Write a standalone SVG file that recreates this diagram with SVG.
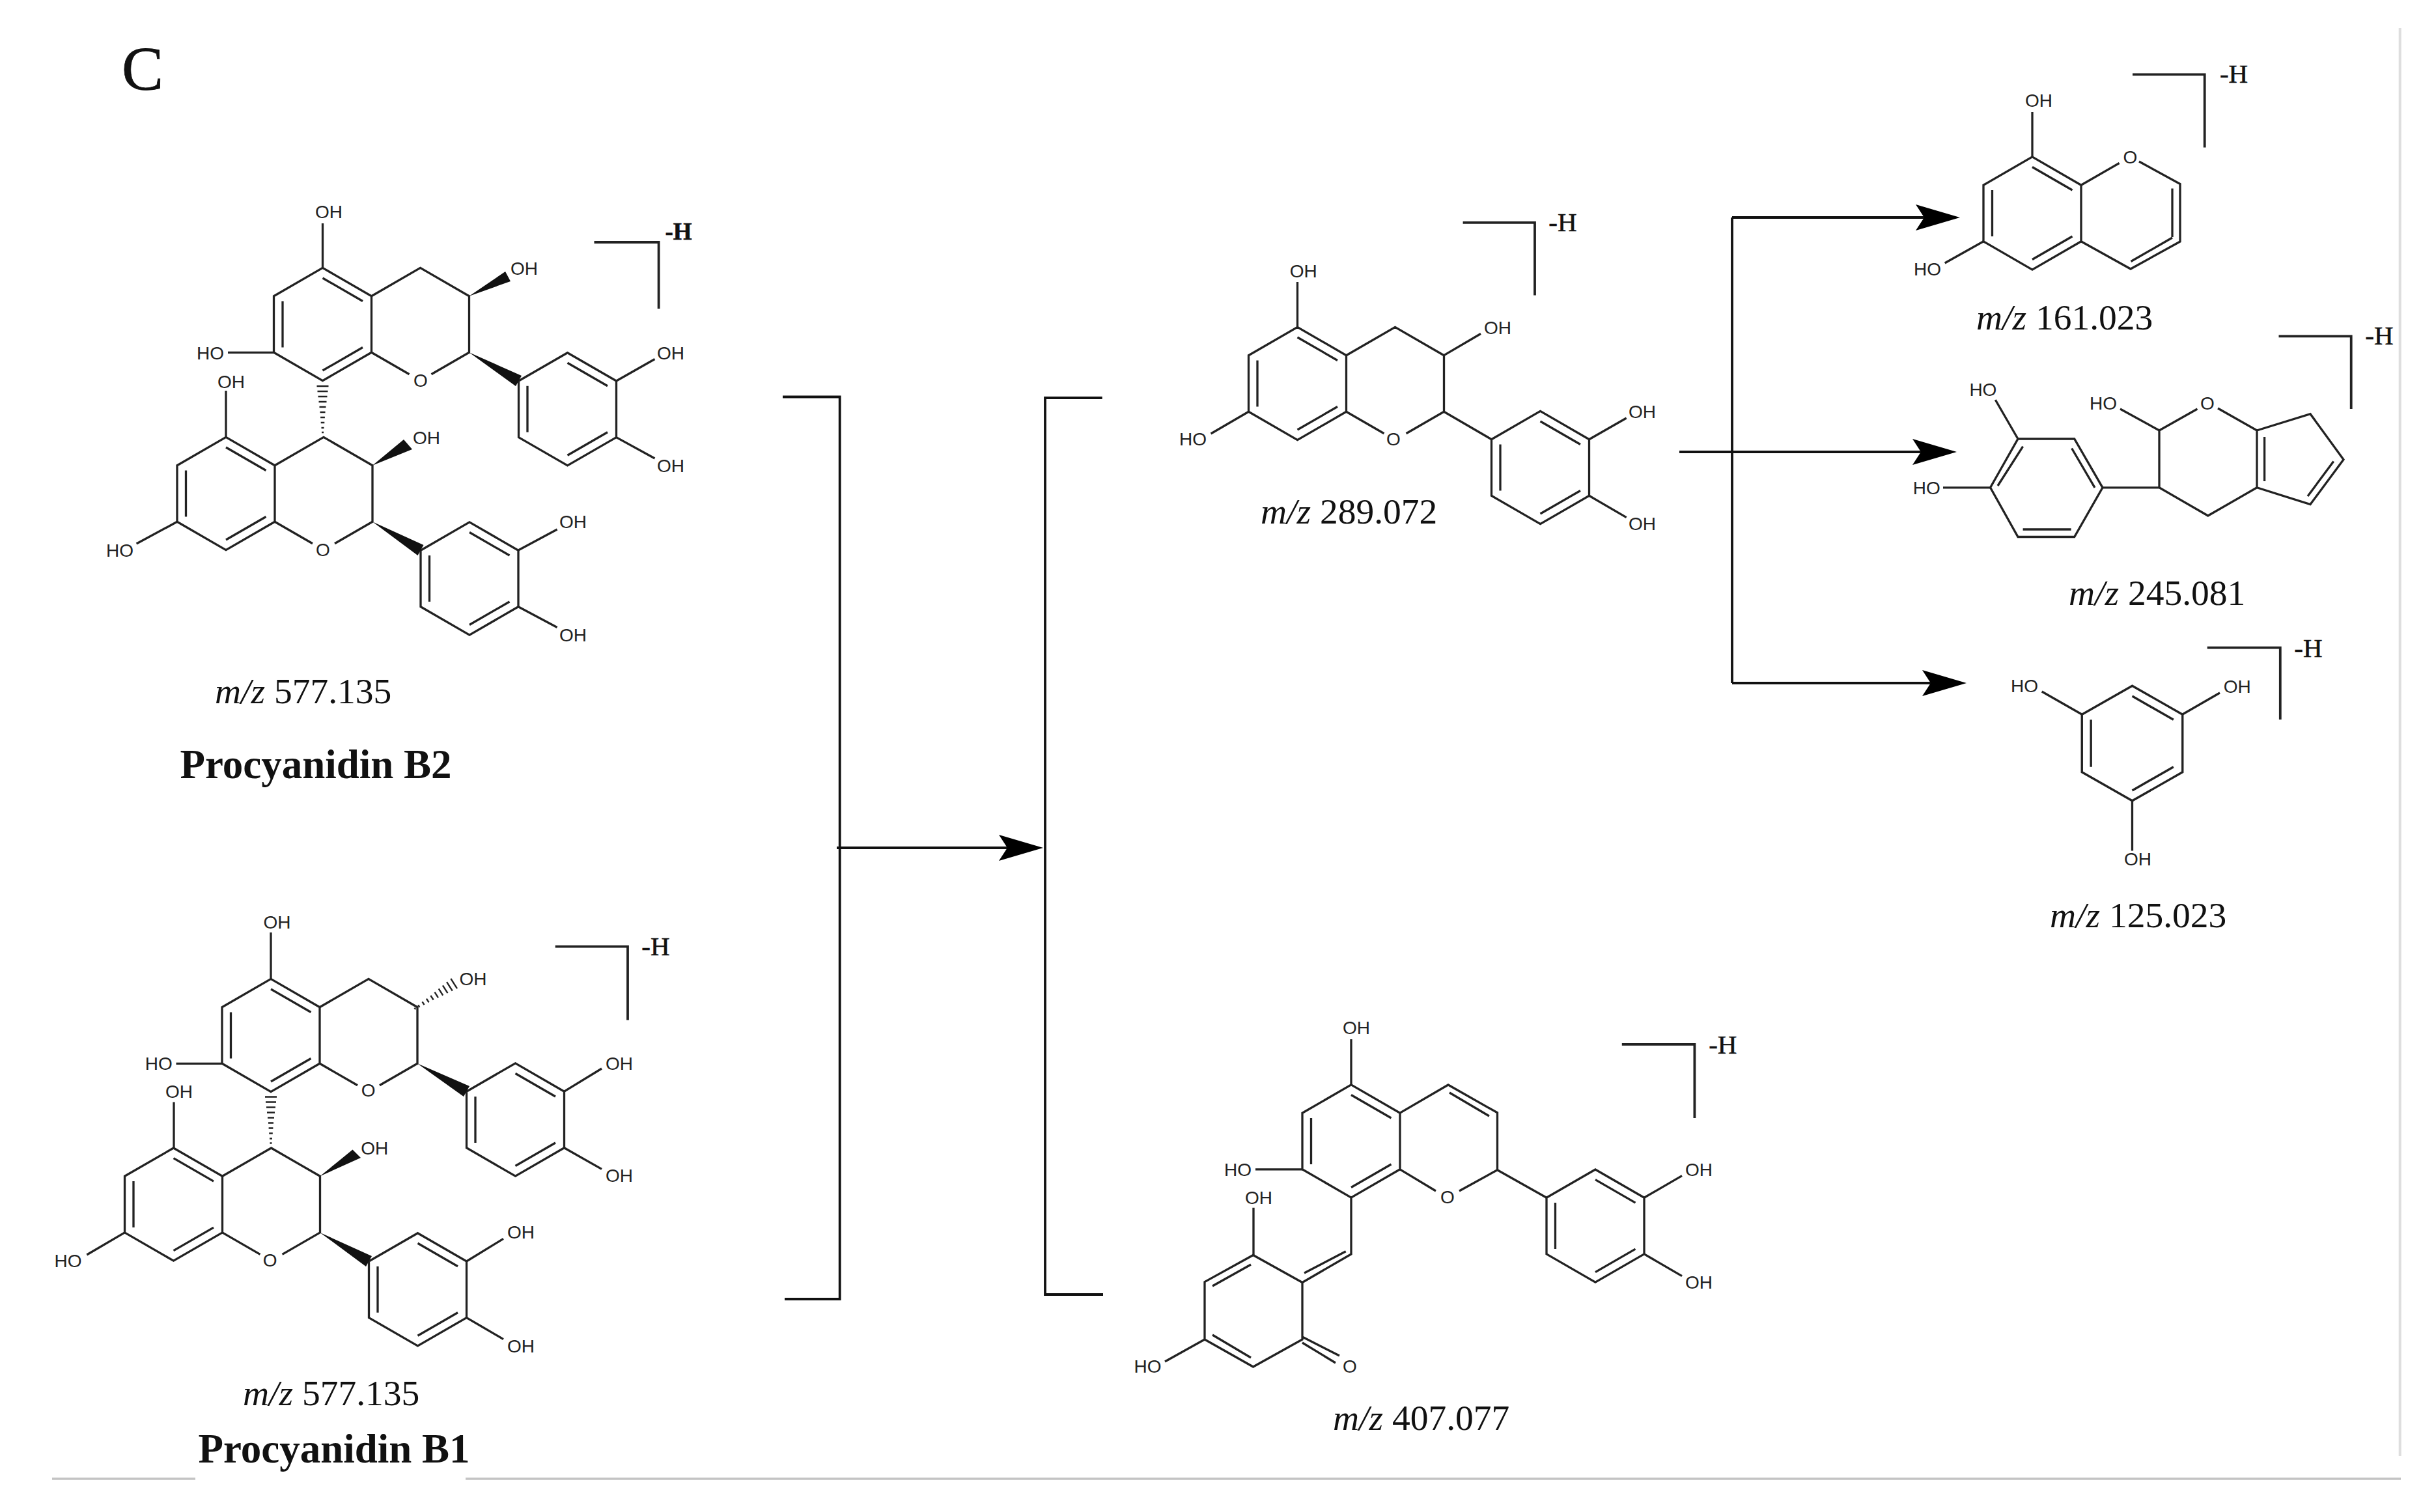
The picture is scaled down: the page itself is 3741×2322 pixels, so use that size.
<svg xmlns="http://www.w3.org/2000/svg" xmlns:xlink="http://www.w3.org/1999/xlink" width="3741" height="2322" viewBox="0 0 3741 2322">
<style>
.b{fill:none;stroke:#222;stroke-width:3.3;stroke-linejoin:miter}
.w{fill:#111;stroke:none}
.h{fill:none;stroke:#222;stroke-width:2.4}
.br{fill:none;stroke:#222;stroke-width:3.8}
.c{fill:none;stroke:#111;stroke-width:3.8}
.a{font-family:"Liberation Sans",Arial,sans-serif;font-size:28px;fill:#222;text-anchor:middle}
.t{font-family:"Liberation Serif","Times New Roman",serif;fill:#111}
.mz{font-size:55.5px}
.mz tspan{font-style:italic}
.hh{font-size:41px;text-anchor:middle;stroke:#111;stroke-width:.6}
.nm{font-size:63px;font-weight:bold;text-anchor:middle}
</style>
<defs>
<path id="benz" d="M0-86.6 75-43.3V43.3L0 86.6-75 43.3V-43.3ZM0-71 61.5-35.5M-61.5-35.5V35.5M0 71 61.5 35.5"/>
<path id="pyran" d="M75-43.3 150-86.6 225-43.3V43.3L167 76.8M133 76.8 75 43.3"/>
<path id="hash" d="M-9 1H9M-8 9H8M-7 17H7M-6 25H6M-5 33H5M-4 41H4M-3.4 49H3.4M-2.8 57H2.8M-2 65H2M-1.5 72H1.5"/>
<marker id="arr" markerUnits="userSpaceOnUse" markerWidth="68" markerHeight="40" viewBox="0 0 68 40" refX="58" refY="20" orient="auto">
<path d="M0 0 68 20 0 40 13 20Z" fill="#000"/>
</marker>
</defs>
<rect width="3741" height="2322" fill="#fff"/>
<g id="frame">
<path d="M80 2271H300M715 2271H3687" fill="none" stroke="#c4c4c4" stroke-width="3.5"/>
<path d="M3685.7 43V2236" fill="none" stroke="#dedede" stroke-width="4"/>
</g>
<text id="panel-label" class="t" x="187" y="138" font-size="96" stroke="#111" stroke-width=".8">C</text>

<g id="procyanidin-b2">
<use href="#benz" class="b" transform="translate(495.5 498)"/>
<use href="#pyran" class="b" transform="translate(495.5 498)"/>
<use href="#benz" class="b" transform="translate(871.5 628.3)"/>
<use href="#benz" class="b" transform="translate(347 758)"/>
<use href="#pyran" class="b" transform="translate(347 758)"/>
<use href="#benz" class="b" transform="translate(721 888.5)"/>
<use href="#hash" class="h" transform="translate(495.5 592)"/>
<path class="b" d="M495.5 411.4V343M420.5 541.3H350M946.5 585 1005.5 551.5M946.5 671.6 1005.5 704M347 671.4V600M272 801.3 209.6 835M796 845 855.6 813M796 931.8 855.6 963.5"/>
<path class="w" d="M720.5 454.7 776 417 784 432ZM720.5 541.3 801 577 792 593ZM572 714.7 620 675 633 690ZM572 801.3 650.5 837 641.5 853Z"/>
<path class="br" d="M912.5 372H1011.6V474"/>
<text class="a" x="505" y="335">OH</text>
<text class="a" x="805" y="422">OH</text>
<text class="a" x="323" y="552">HO</text>
<text class="a" x="646" y="594">O</text>
<text class="a" x="1030" y="552">OH</text>
<text class="a" x="1030" y="725">OH</text>
<text class="a" x="355" y="595.5">OH</text>
<text class="a" x="655" y="682">OH</text>
<text class="a" x="184" y="855">HO</text>
<text class="a" x="496" y="854">O</text>
<text class="a" x="880" y="811">OH</text>
<text class="a" x="880" y="985">OH</text>
<text class="t hh" x="1042" y="368" font-weight="bold" style="font-size:37px">-H</text>
<text class="t mz" x="330" y="1080">
<tspan>m/z</tspan> 577.135</text>
<text class="t nm" x="485" y="1195">Procyanidin B2</text>
</g>

<g id="procyanidin-b1">
<use href="#benz" class="b" transform="translate(416 1590)"/>
<use href="#pyran" class="b" transform="translate(416 1590)"/>
<use href="#benz" class="b" transform="translate(791.5 1719.5)"/>
<use href="#benz" class="b" transform="translate(266.5 1849.6)"/>
<use href="#pyran" class="b" transform="translate(266.5 1849.6)"/>
<use href="#benz" class="b" transform="translate(641.5 1980.3)"/>
<use href="#hash" class="h" transform="translate(416 1683.5)"/>
<use href="#hash" class="h" transform="translate(698 1510) rotate(57.3)"/>
<path class="b" d="M416 1503.4V1432M341 1633.3H270.5M866.5 1676.2 924 1641M866.5 1762.8 924 1795.4M267 1763V1692.4M191.5 1892.9 133.3 1927M716.5 1937 773 1902.4M716.5 2023.6 773 2056.6"/>
<path class="w" d="M641 1633.3 721 1668 712 1684ZM491.5 1806.3 541.5 1765.6 554 1778ZM491.5 1892.9 571 1929 562 1945Z"/>
<path class="br" d="M852.7 1453.6H964V1566.6"/>
<text class="a" x="425.4" y="1426.3">OH</text>
<text class="a" x="726.4" y="1513">OH</text>
<text class="a" x="243.7" y="1642.7">HO</text>
<text class="a" x="565.7" y="1684">O</text>
<text class="a" x="951" y="1642.7">OH</text>
<text class="a" x="951" y="1815.4">OH</text>
<text class="a" x="275" y="1686">OH</text>
<text class="a" x="575.3" y="1773">OH</text>
<text class="a" x="104.6" y="1945.7">HO</text>
<text class="a" x="414.6" y="1945">O</text>
<text class="a" x="800" y="1902.4">OH</text>
<text class="a" x="800" y="2076.6">OH</text>
<text class="t hh" x="1007" y="1467">-H</text>
<text class="t mz" x="373" y="2158">
<tspan>m/z</tspan> 577.135</text>
<text class="t nm" x="513" y="2246">Procyanidin B1</text>
</g>

<g id="mz-289">
<use href="#benz" class="b" transform="translate(1992.5 589)"/>
<use href="#pyran" class="b" transform="translate(1992.5 589)"/>
<use href="#benz" class="b" transform="translate(2365.5 718)"/>
<path class="b" d="M1992.5 502.4V433M2217.5 545.7 2274 512.5M1917.5 632.3 1859.6 666M2217.5 632.3 2290.5 674.7M2440.5 674.7 2497.7 642M2440.5 761.3 2497.7 794.6"/>
<path class="br" d="M2246.6 341.8H2357V453.6"/>
<text class="a" x="2001.7" y="426">OH</text>
<text class="a" x="2300" y="512.5">OH</text>
<text class="a" x="1832" y="684">HO</text>
<text class="a" x="2140" y="684">O</text>
<text class="a" x="2522" y="642">OH</text>
<text class="a" x="2522" y="813.6">OH</text>
<text class="t hh" x="2400" y="355">-H</text>
<text class="t mz" x="1936" y="803.6">
<tspan>m/z</tspan> 289.072</text>
</g>

<g id="mz-407">
<use href="#benz" class="b" transform="translate(2075 1752.5)"/>
<use href="#benz" class="b" transform="translate(2450 1882.6)"/>
<path class="b" d="M2150 1709.2 2224 1666 2299.5 1708.8V1796.7L2241 1829M2205 1829 2150 1795.8M2226 1678 2287 1714"/>
<path class="b" d="M2075 1839.1V1926L2000 1969.5V2057L1924.5 2099 1850 2057V1968.6L1924.5 1927.5 2000 1969.5M2003 1955 2066.7 1921.7M1921 1942 1862 1975M1921 2085 1862 2050M2000 2053 2057 2082M2000 2062 2051 2093"/>
<path class="b" d="M2075 1665.9V1596M2000 1795.8H1928M2525 1839.3 2583 1805.6M2525 1925.9 2583 1959.6M1925 1927.5V1854.7M1850 2057 1789 2091M2299.5 1796.7 2375 1839.3"/>
<path class="br" d="M2490.8 1603.8H2602.4V1717"/>
<text class="a" x="2083" y="1588">OH</text>
<text class="a" x="1901" y="1806">HO</text>
<text class="a" x="2609" y="1806">OH</text>
<text class="a" x="2223" y="1848">O</text>
<text class="a" x="2609" y="1978.6">OH</text>
<text class="a" x="1933" y="1849">OH</text>
<text class="a" x="1762.5" y="2108">HO</text>
<text class="a" x="2073" y="2108">O</text>
<text class="t hh" x="2645.8" y="1618">-H</text>
<text class="t mz" x="2047" y="2196">
<tspan>m/z</tspan> 407.077</text>
</g>

<g id="mz-161">
<use href="#benz" class="b" transform="translate(3121 327.5)"/>
<path class="b" d="M3196 284.2 3254.6 250.5M3285 248 3348 282.6V371L3272 413 3196 370.8M3336 289.5V364M3272.5 401.5 3336 365M3121 241V172M3046 370.8 2986.7 404"/>
<path class="br" d="M3275 114.4H3385.7V226.4"/>
<text class="a" x="3131" y="164">OH</text>
<text class="a" x="2960" y="423">HO</text>
<text class="a" x="3271.4" y="251">O</text>
<text class="t hh" x="3430.6" y="127">-H</text>
<text class="t mz" x="3035" y="506">
<tspan>m/z</tspan> 161.023</text>
</g>

<g id="mz-245">
<path class="b" d="M3099 674H3185.7L3229 748.8 3185.7 824.5H3099L3056.6 748.8ZM3106.6 685.6 3068 746M3181.6 688.5 3217 748.8M3106.6 813H3180.6"/>
<path class="b" d="M3229 748.8H3316V661L3374.5 628M3406 627 3466 661V748.8L3390.8 792 3316 748.8M3466 661 3548 635.7 3599 705.7 3548 774.6 3466 748.8M3477.6 671V739M3583.7 708.6 3544 762"/>
<path class="b" d="M3099 674 3064.3 614M3056.6 748.8H2984M3316 661 3256 628"/>
<path class="br" d="M3499.5 516.3H3610.7V628"/>
<text class="a" x="3045.4" y="608.4">HO</text>
<text class="a" x="2958.7" y="758.8">HO</text>
<text class="a" x="3230" y="628.5">HO</text>
<text class="a" x="3390" y="628.5">O</text>
<text class="t hh" x="3654" y="529">-H</text>
<text class="t mz" x="3177" y="928.5">
<tspan>m/z</tspan> 245.081</text>
</g>

<g id="mz-125">
<use href="#benz" class="b" transform="translate(3274.5 1141.5) scale(1.03 1.02)"/>
<path class="b" d="M3197 1097 3135.7 1062M3351.8 1097 3409 1064M3274.5 1229.6V1306.5"/>
<path class="br" d="M3389.7 994.7H3501.8V1105"/>
<text class="a" x="3109" y="1063">HO</text>
<text class="a" x="3435.7" y="1064">OH</text>
<text class="a" x="3283" y="1329">OH</text>
<text class="t hh" x="3545" y="1008.7">-H</text>
<text class="t mz" x="3148" y="1423.6">
<tspan>m/z</tspan> 125.023</text>
</g>

<g id="connectors">
<path class="c" d="M1202 609.5H1289.7V1995H1205"/>
<path class="c" d="M1692.7 611H1605V1988H1694"/>
<line class="c" x1="1285" y1="1302" x2="1592" y2="1302" marker-end="url(#arr)"/>
<path class="c" d="M2660 334V1049"/>
<line class="c" x1="2660" y1="334" x2="3000" y2="334" marker-end="url(#arr)"/>
<line class="c" x1="2579" y1="694" x2="2995" y2="694" marker-end="url(#arr)"/>
<line class="c" x1="2660" y1="1049" x2="3010" y2="1049" marker-end="url(#arr)"/>
</g>
</svg>
